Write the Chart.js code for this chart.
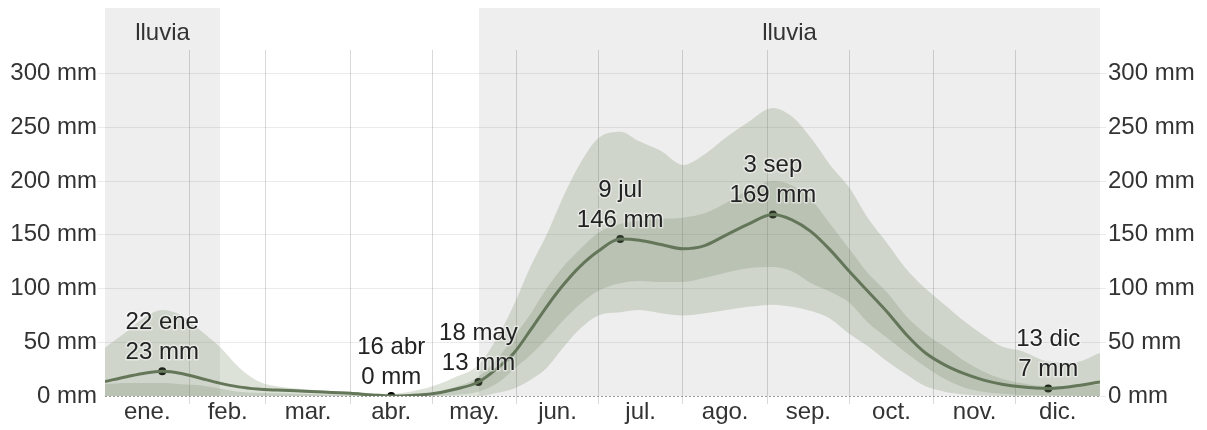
<!DOCTYPE html>
<html>
<head>
<meta charset="utf-8">
<script src="https://cdn.jsdelivr.net/npm/chart.js@4/dist/chart.umd.min.js"></script>
<style>
  html, body { margin: 0; padding: 0; background: #fff; }
  #wrap { width: 1207px; height: 430px; }
</style>
</head>
<body>
<div id="wrap"><canvas id="rainChart" width="1207" height="430"></canvas></div>
<script>
// Day of year (0 = 1 Jan) for each sample
const days = [0, 8, 15, 21, 28, 35, 42, 49, 56, 63,
    70, 80, 90, 98, 105, 112, 120, 128, 137, 144,
    150, 156, 162, 168, 174, 181, 189, 196, 204, 212,
    220, 228, 236, 245, 252, 259, 266, 273, 280, 287,
    294, 301, 308, 315, 322, 329, 336, 346, 355, 365];

// Average monthly rainfall (mm), sliding 31-day window
const meanMm = [13.5, 18, 21.5, 23, 21, 16.5, 12, 8.5, 6.5, 5.5,
    4.8, 3.8, 2.5, 1, 0, 0.5, 2, 6, 13, 26,
    40, 61, 83, 103, 120, 135, 146, 145, 141, 137,
    140, 150, 160, 169, 164, 153, 136, 116, 97, 78,
    57, 40, 29, 21, 15, 11, 8.5, 7, 9, 13];

// 90th percentile
const p90 = [45, 60, 74, 80, 75, 61, 46, 27, 14, 9,
    7, 5, 4, 2.5, 2, 4, 9, 17, 29, 55,
    85, 120, 150, 185, 215, 240, 246, 237, 228, 215,
    225, 241, 255, 268, 260, 240, 215, 194, 165, 142,
    118, 100, 85, 70, 57, 46, 42, 32, 31, 40];

// 75th percentile
const p75 = [11, 12, 12, 12, 11, 10, 7, 4, 3, 2.5,
    2, 1.5, 1, 0.5, 0, 1, 3, 8, 18, 35,
    55, 76, 100, 120, 136, 152, 160, 163, 165, 166,
    170, 180, 192, 200, 196, 183, 160, 137, 114, 96,
    74, 58, 46, 33, 23, 16, 12, 9, 9, 11];

// 25th percentile
const p25 = [0, 0, 0, 0, 0, 0, 0, 0, 0, 0,
    0, 0, 0, 0, 0, 0, 0, 1, 4, 12,
    25, 38, 53, 70, 85, 98, 105, 107, 106, 106,
    110, 115, 119, 120, 116, 105, 97, 87, 68, 54,
    40, 27, 16, 8, 4, 2, 1, 0.5, 0.3, 0];

// 10th percentile
const p10 = [0, 0, 0, 0, 0, 0, 0, 0, 0, 0,
    0, 0, 0, 0, 0, 0, 0, 0, 0, 3,
    7, 15, 26, 45, 62, 75, 78, 80, 77, 75,
    77, 80, 83, 85, 83, 79, 72, 58, 46, 32,
    20, 9, 4, 1.5, 0.5, 0, 0, 0, 0, 0];

// Highlighted extremes
const markDays = [21, 105, 137, 189, 245, 346];
const markDates = ['22 ene', '16 abr', '18 may', '9 jul', '3 sep', '13 dic'];

// Wet season ("lluvia") ranges, in days
const wetRanges = [[0, 42.2], [137.2, 365]];
const wetLabel = 'lluvia';

// Month boundaries and month labels
const monthStarts = [31, 59, 90, 120, 151, 181, 212, 243, 273, 304, 334];
const monthMids = [15.5, 45, 74.5, 105, 135.5, 166, 196.5, 227.5, 258, 288.5, 319, 349.5];
const monthNames = ['ene.', 'feb.', 'mar.', 'abr.', 'may.', 'jun.', 'jul.', 'ago.', 'sep.', 'oct.', 'nov.', 'dic.'];

const yTicks = [0, 50, 100, 150, 200, 250, 300];

const FONT = "'Liberation Sans', Arial, sans-serif";
const TEXT = '#333333';

function pts(values) {
    return days.map((d, i) => ({ x: d, y: values[i] }));
}

const markPoints = markDays.map(d => ({ x: d, y: meanMm[days.indexOf(d)] }));

// Grey wet-season blocks behind the plot
const wetPlugin = {
    id: 'wetSeason',
    beforeDraw(chart) {
        const { ctx, chartArea } = chart;
        const x = chart.scales.x;
        ctx.save();
        wetRanges.forEach(r => {
            const x0 = x.getPixelForValue(r[0]);
            const x1 = x.getPixelForValue(r[1]);
            ctx.fillStyle = '#eeeeee';
            ctx.fillRect(x0, 8, x1 - x0, chartArea.bottom - 8);
            ctx.fillStyle = TEXT;
            ctx.font = '24px ' + FONT;
            ctx.textAlign = 'center';
            ctx.textBaseline = 'alphabetic';
            ctx.fillText(wetLabel, (x0 + x1) / 2, 40);
        });
        ctx.restore();
    }
};

// Dotted zero line and the extreme labels
const labelPlugin = {
    id: 'extremeLabels',
    afterDatasetsDraw(chart) {
        const { ctx, chartArea } = chart;
        const y0 = chart.scales.y.getPixelForValue(0);
        ctx.save();
        ctx.strokeStyle = '#9a9a9a';
        ctx.lineWidth = 1;
        ctx.setLineDash([2, 2]);
        ctx.beginPath();
        ctx.moveTo(chartArea.left, y0 + 0.5);
        ctx.lineTo(chartArea.right, y0 + 0.5);
        ctx.stroke();
        ctx.setLineDash([]);

        const meta = chart.getDatasetMeta(5);
        ctx.font = '24px ' + FONT;
        ctx.textAlign = 'center';
        ctx.textBaseline = 'alphabetic';
        ctx.lineJoin = 'round';
        meta.data.forEach((pt, i) => {
            const lines = [markDates[i], Math.round(markPoints[i].y) + ' mm'];
            const bases = [pt.y - 42, pt.y - 12];
            lines.forEach((t, k) => {
                ctx.strokeStyle = 'rgba(255,255,255,0.45)';
                ctx.lineWidth = 3;
                ctx.strokeText(t, pt.x, bases[k]);
                ctx.fillStyle = '#222';
                ctx.fillText(t, pt.x, bases[k]);
            });
        });
        ctx.restore();
    }
};

const outerFill = 'rgba(120, 140, 105, 0.25)';
const innerFill = 'rgba(90, 110, 80, 0.2)';

new Chart(document.getElementById('rainChart'), {
    type: 'line',
    data: {
        datasets: [
            { data: pts(p10), borderWidth: 0, pointRadius: 0, fill: false },
            { data: pts(p90), borderWidth: 0, pointRadius: 0, fill: '-1', backgroundColor: outerFill },
            { data: pts(p25), borderWidth: 0, pointRadius: 0, fill: false },
            { data: pts(p75), borderWidth: 0, pointRadius: 0, fill: '-1', backgroundColor: innerFill },
            { data: pts(meanMm), borderColor: '#5f7055', borderWidth: 3, pointRadius: 0, fill: false },
            { data: markPoints, showLine: false, pointRadius: 4, pointBackgroundColor: '#000',
              pointBorderColor: '#000', pointBorderWidth: 0 }
        ]
    },
    options: {
        responsive: false,
        animation: false,
        layout: { padding: { top: 50, left: 0, right: 0, bottom: 0 } },
        elements: { line: { tension: 0.4, cubicInterpolationMode: 'monotone' } },
        plugins: {
            legend: { display: false },
            tooltip: { enabled: false }
        },
        scales: {
            x: {
                type: 'linear',
                min: 0,
                max: 365,
                border: { display: false },
                afterBuildTicks: scale => {
                    scale.ticks = monthStarts.concat(monthMids).sort((a, b) => a - b).map(v => ({ value: v }));
                },
                afterFit: scale => { scale.height = 34; },
                grid: {
                    color: c => monthStarts.includes(c.tick && c.tick.value) ? 'rgba(0,0,0,0.15)' : 'rgba(0,0,0,0)',
                    lineWidth: 1,
                    tickLength: 8
                },
                ticks: {
                    autoSkip: false,
                    maxRotation: 0,
                    padding: -6,
                    color: TEXT,
                    font: { family: FONT, size: 24 },
                    callback: v => {
                        const i = monthMids.indexOf(v);
                        return i >= 0 ? monthNames[i] : '';
                    }
                }
            },
            y: {
                position: 'left',
                min: 0,
                max: 322,
                border: { display: false },
                afterBuildTicks: scale => { scale.ticks = yTicks.map(v => ({ value: v })); },
                afterFit: scale => { scale.width = 105; },
                grid: {
                    color: c => (c.tick && c.tick.value === 0) ? 'rgba(0,0,0,0)' : 'rgba(0,0,0,0.08)',
                    tickLength: 7
                },
                ticks: {
                    padding: 1,
                    color: TEXT,
                    font: { family: FONT, size: 24 },
                    callback: v => v + ' mm'
                }
            },
            y2: {
                position: 'right',
                min: 0,
                max: 322,
                border: { display: false },
                afterBuildTicks: scale => { scale.ticks = yTicks.map(v => ({ value: v })); },
                afterFit: scale => { scale.width = 107; },
                grid: {
                    drawOnChartArea: false,
                    color: 'rgba(0,0,0,0.08)',
                    tickLength: 6
                },
                ticks: {
                    padding: 2,
                    color: TEXT,
                    font: { family: FONT, size: 24 },
                    callback: v => v + ' mm'
                }
            }
        }
    },
    plugins: [wetPlugin, labelPlugin]
});
</script>
</body>
</html>
